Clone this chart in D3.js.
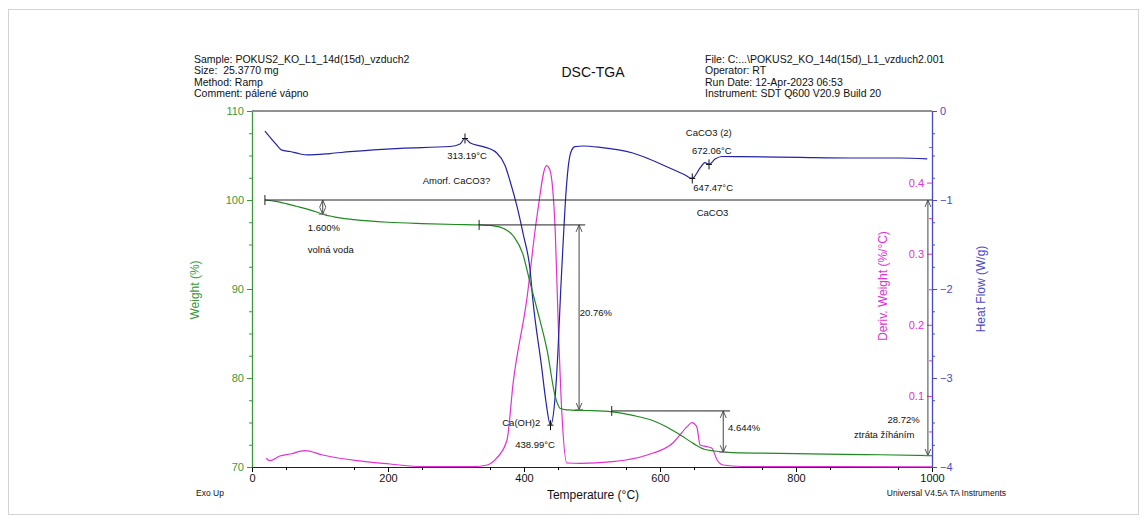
<!DOCTYPE html>
<html lang="en">
<head>
<meta charset="UTF-8">
<title>DSC-TGA</title>
<script src="https://d3js.org/d3.v7.min.js"></script>
<style>
    body { margin: 0; background: #fff; font-family: "Liberation Sans", Arial, sans-serif; }
    svg text { font-family: "Liberation Sans", Arial, sans-serif; white-space: pre; }
</style>
</head>
<body>
<div id="chart"></div>
<script>
// ---- data ----
// weight (%) vs temperature (°C)
var weightT = [19, 35, 50, 65, 80, 95, 104, 125, 150, 200, 250, 300, 334, 355, 370, 385, 398, 409, 420, 434, 446, 453, 460, 470, 490, 530, 560, 590, 610, 630, 650, 665, 680, 700, 750, 800, 900, 1000];
var weightVals = [100, 99.85, 99.6, 99.3, 99.0, 98.65, 98.4, 98.05, 97.8, 97.5, 97.35, 97.25, 97.2, 97.1, 96.8, 95.9, 94.0, 90.7, 87.5, 83.1, 77.9, 76.6, 76.45, 76.4, 76.35, 76.2, 75.8, 75.2, 74.5, 73.6, 72.6, 72.0, 71.8, 71.65, 71.55, 71.5, 71.4, 71.28];

// heat flow (W/g)
var heatT = [19, 34, 44, 56, 71, 81, 115, 144, 218, 291, 306, 313, 321, 340, 360, 372, 379, 390, 399, 409, 413, 426, 432, 439, 446, 450, 454, 457, 462, 465, 469, 475, 487, 512, 560, 610, 637, 647, 659, 666, 672, 681, 691, 718, 806, 879, 953, 993];
var heatVals = [-0.225, -0.36, -0.44, -0.455, -0.483, -0.494, -0.478, -0.457, -0.419, -0.399, -0.37, -0.309, -0.36, -0.40, -0.472, -0.61, -0.775, -1.08, -1.39, -1.79, -2.12, -2.88, -3.25, -3.53, -3.19, -2.69, -2.01, -1.56, -0.89, -0.63, -0.46, -0.40, -0.393, -0.408, -0.472, -0.626, -0.72, -0.758, -0.64, -0.579, -0.60, -0.54, -0.511, -0.513, -0.522, -0.528, -0.528, -0.539];

// derivative weight (%/°C)
var derivT = [21, 26, 41, 56, 78, 104, 154, 203, 251, 325, 346, 360, 375, 384, 404, 419, 433, 438, 446, 450, 456, 463, 483, 530, 581, 619, 640, 647, 654, 659, 669, 676, 684, 693, 720, 850, 1000];
var derivVals = [0.0123, 0.0089, 0.0155, 0.0183, 0.023, 0.0169, 0.0089, 0.0042, 0.0004, 0.0004, 0.0028, 0.0127, 0.038, 0.118, 0.235, 0.352, 0.424, 0.418, 0.33, 0.211, 0.07, 0.0056, 0.0052, 0.0075, 0.0169, 0.0338, 0.0568, 0.0624, 0.0568, 0.031, 0.0286, 0.0268, 0.0099, 0.0028, 0.0007, 0.0004, 0.0003];

// axis ticks
var tempTicks = [0, 200, 400, 600, 800, 1000];
var weightTicks = [70, 80, 90, 100, 110];
var heatTicks = [-4, -3, -2, -1, 0];
var derivTicks = [0.1, 0.2, 0.3, 0.4];

// step baselines (temperature range, weight level)
var stepLines = [
    {t0: 19, t1: 1000, w: 100},
    {t0: 334, t1: 490, w: 97.2},
    {t0: 529, t1: 703, w: 76.3}
];
// weight loss arrows
var stepArrows = [
    {t: 104, w0: 100, w1: 98.4},
    {t: 481, w0: 97.2, w1: 76.44},
    {t: 693, w0: 76.3, w1: 71.66},
    {t: 994, w0: 100, w1: 71.28}
];
// heat flow event markers
var peakT = [313.19, 438.99, 647.47, 672.06];
var peakHF = [-0.309, -3.53, -0.758, -0.60];

// annotation texts [text, temperature, weight, anchor]
var notes = [
    ['1.600%', 82, 96.5, 'start'],
    ['volná voda', 82, 94.05, 'start'],
    ['Amorf. CaCO3?', 251, 101.8, 'start'],
    ['313.19°C', 287, 104.6, 'start'],
    ['CaCO3', 654, 98.2, 'start'],
    ['CaCO3 (2)', 638, 107.2, 'start'],
    ['672.06°C', 647, 105.2, 'start'],
    ['647.47°C', 649, 101.0, 'start'],
    ['20.76%', 482, 86.97, 'start'],
    ['Ca(OH)2', 368, 74.6, 'start'],
    ['438.99°C', 387, 72.13, 'start'],
    ['4.644%', 700, 74.04, 'start'],
    ['28.72%', 982, 74.9, 'end'],
    ['ztráta žíháním', 974, 73.26, 'end']
];

var headerLeft = ['Sample: POKUS2_KO_L1_14d(15d)_vzduch2', 'Size:  25.3770 mg', 'Method: Ramp', 'Comment: pálené vápno'];
var headerRight = ['File: C:...\\POKUS2_KO_14d(15d)_L1_vzduch2.001', 'Operator: RT', 'Run Date: 12-Apr-2023 06:53', 'Instrument: SDT Q600 V20.9 Build 20'];

// ---- drawing ----
var W = 1147, H = 522;
var m = {left: 252, right: 932, top: 111, bottom: 467};

var green = '#1f8a1f', greenAxis = '#3a9a3a', blue = '#2323a8', blueAxis = '#4a4ac8', magenta = '#e030d8';

var svg = d3.select('#chart').append('svg').attr('width', W).attr('height', H);

svg.append('rect').attr('x', 8.5).attr('y', 9.5).attr('width', 1130).attr('height', 505)
    .attr('fill', 'none').attr('stroke', '#d4d4d4');

var x = d3.scaleLinear().domain([0, 1000]).range([m.left, m.right]);
var yW = d3.scaleLinear().domain([70, 110]).range([m.bottom, m.top]);
var yHF = d3.scaleLinear().domain([-4, 0]).range([m.bottom, m.top]);
var yD = d3.scaleLinear().domain([0, 0.5]).range([m.bottom, m.top + 0.5]);

// header
var hl = svg.append('g').attr('font-size', '10.5px').attr('fill', '#111');
headerLeft.forEach(function(s, i){
    hl.append('text').attr('x', 194).attr('y', 63 + i * 11.3).text(s);
});
headerRight.forEach(function(s, i){
    hl.append('text').attr('x', 705).attr('y', 63 + i * 11.3).text(s);
});
svg.append('text').attr('x', 593).attr('y', 77).attr('text-anchor', 'middle')
    .attr('font-size', '14px').attr('fill', '#111').text('DSC-TGA');

// top border
svg.append('line').attr('x1', m.left).attr('x2', m.right).attr('y1', m.top).attr('y2', m.top)
    .attr('stroke', '#222').attr('stroke-width', 1);

// bottom axis
var xAxis = svg.append('g').attr('transform', 'translate(0,' + m.bottom + ')')
    .call(d3.axisBottom(x).tickValues(tempTicks).tickSize(5).tickSizeOuter(0).tickPadding(2).tickFormat(d3.format('d')));
xAxis.select('.domain').attr('stroke', '#222');
xAxis.selectAll('text').attr('font-size', '11px').attr('fill', '#111');
svg.append('g').attr('transform', 'translate(0,' + m.bottom + ')')
    .call(d3.axisBottom(x).tickValues(d3.range(50, 1000, 100)).tickSize(3).tickFormat(''))
    .call(function(g){ g.select('.domain').remove(); });

// left weight axis
var yAxis = svg.append('g').attr('transform', 'translate(' + m.left + ',0)')
    .call(d3.axisLeft(yW).tickValues(weightTicks).tickSize(5).tickSizeOuter(0).tickPadding(3));
yAxis.select('.domain').attr('stroke', greenAxis).attr('stroke-width', 1.3);
yAxis.selectAll('line').attr('stroke', greenAxis);
yAxis.selectAll('text').attr('font-size', '11px').attr('fill', greenAxis);
svg.append('g').attr('transform', 'translate(' + m.left + ',0)')
    .call(d3.axisLeft(yW).tickValues(d3.range(72.5, 110, 2.5).filter(function(v){ return v % 10 !== 0; })).tickSize(3).tickFormat(''))
    .call(function(g){ g.select('.domain').remove(); g.selectAll('line').attr('stroke', greenAxis); });

// right heat flow axis
var hAxis = svg.append('g').attr('transform', 'translate(' + m.right + ',0)')
    .call(d3.axisRight(yHF).tickValues(heatTicks).tickSize(5).tickSizeOuter(0).tickPadding(3).tickFormat(d3.format('d')));
hAxis.select('.domain').attr('stroke', blueAxis).attr('stroke-width', 1.3);
hAxis.selectAll('line').attr('stroke', blueAxis);
hAxis.selectAll('text').attr('font-size', '11px').attr('fill', blueAxis);
svg.append('g').attr('transform', 'translate(' + m.right + ',0)')
    .call(d3.axisRight(yHF).tickValues(d3.range(-3.75, 0, 0.25).filter(function(v){ return v % 1 !== 0; })).tickSize(3).tickFormat(''))
    .call(function(g){ g.select('.domain').remove(); g.selectAll('line').attr('stroke', blueAxis); });

// deriv axis (same line, left side)
var dAxis = svg.append('g').attr('transform', 'translate(' + m.right + ',0)')
    .call(d3.axisLeft(yD).tickValues(derivTicks).tickSize(5).tickPadding(3).tickFormat(d3.format('.1f')));
dAxis.select('.domain').remove();
dAxis.selectAll('line').attr('stroke', magenta);
dAxis.selectAll('text').attr('font-size', '11px').attr('fill', magenta);
svg.append('g').attr('transform', 'translate(' + m.right + ',0)')
    .call(d3.axisLeft(yD).tickValues([0.05, 0.15, 0.25, 0.35, 0.45]).tickSize(3).tickFormat(''))
    .call(function(g){ g.select('.domain').remove(); g.selectAll('line').attr('stroke', magenta); });

// axis titles
svg.append('text').attr('transform', 'translate(199,290) rotate(-90)').attr('text-anchor', 'middle')
    .attr('font-size', '12px').attr('fill', greenAxis).text('Weight (%)');
svg.append('text').attr('transform', 'translate(887,286) rotate(-90)').attr('text-anchor', 'middle')
    .attr('font-size', '12px').attr('fill', magenta).text('Deriv. Weight (%/°C)');
svg.append('text').attr('transform', 'translate(985,289) rotate(-90)').attr('text-anchor', 'middle')
    .attr('font-size', '12px').attr('fill', blueAxis).text('Heat Flow (W/g)');
svg.append('text').attr('x', 593).attr('y', 499).attr('text-anchor', 'middle')
    .attr('font-size', '12px').attr('fill', '#111').text('Temperature (°C)');
svg.append('text').attr('x', 196).attr('y', 496).attr('font-size', '8.5px').attr('fill', '#111').text('Exo Up');
svg.append('text').attr('x', 1006).attr('y', 496).attr('text-anchor', 'end')
    .attr('font-size', '8.5px').attr('fill', '#111').text('Universal V4.5A TA Instruments');

// curves
function series(ts, vs){ return ts.map(function(t, i){ return [t, vs[i]]; }); }
var curve = d3.curveMonotoneX;

svg.append('path').datum(series(derivT, derivVals))
    .attr('d', d3.line().x(function(d){ return x(d[0]); }).y(function(d){ return yD(d[1]); }).curve(curve))
    .attr('fill', 'none').attr('stroke', magenta).attr('stroke-width', 1.2);

svg.append('path').datum(series(heatT, heatVals))
    .attr('d', d3.line().x(function(d){ return x(d[0]); }).y(function(d){ return yHF(d[1]); }).curve(curve))
    .attr('fill', 'none').attr('stroke', blue).attr('stroke-width', 1.2);

svg.append('path').datum(series(weightT, weightVals))
    .attr('d', d3.line().x(function(d){ return x(d[0]); }).y(function(d){ return yW(d[1]); }).curve(curve))
    .attr('fill', 'none').attr('stroke', green).attr('stroke-width', 1.2);

// arrow marker
var defs = svg.append('defs');
defs.append('marker').attr('id', 'arr').attr('viewBox', '-7 -4 8 8').attr('refX', 0).attr('refY', 0)
    .attr('markerWidth', 8).attr('markerHeight', 8).attr('markerUnits', 'userSpaceOnUse')
    .attr('orient', 'auto-start-reverse')
    .append('path').attr('d', 'M-7,-3 L0,0 L-7,3').attr('fill', 'none').attr('stroke', '#444').attr('stroke-width', 0.9);

// step lines
var ann = svg.append('g');
stepLines.forEach(function(s){
    ann.append('line').attr('x1', x(s.t0)).attr('x2', x(s.t1)).attr('y1', yW(s.w)).attr('y2', yW(s.w))
        .attr('stroke', '#222').attr('stroke-width', 1);
    ann.append('line').attr('x1', x(s.t0)).attr('x2', x(s.t0)).attr('y1', yW(s.w) - 5).attr('y2', yW(s.w) + 5)
        .attr('stroke', '#222').attr('stroke-width', 1);
});
stepArrows.forEach(function(a){
    ann.append('line').attr('x1', x(a.t)).attr('x2', x(a.t)).attr('y1', yW(a.w0)).attr('y2', yW(a.w1))
        .attr('stroke', '#444').attr('stroke-width', 1)
        .attr('marker-start', 'url(#arr)').attr('marker-end', 'url(#arr)');
    ann.append('line').attr('x1', x(a.t) - 4).attr('x2', x(a.t) + 4).attr('y1', yW(a.w1)).attr('y2', yW(a.w1))
        .attr('stroke', '#777').attr('stroke-width', 1);
});

// peak markers on heat flow
peakT.forEach(function(t, i){
    var px = x(t), py = yHF(peakHF[i]);
    ann.append('line').attr('x1', px).attr('x2', px).attr('y1', py - 5).attr('y2', py + 5).attr('stroke', '#111');
    ann.append('line').attr('x1', px - 3).attr('x2', px + 3).attr('y1', py).attr('y2', py).attr('stroke', '#111');
});

// annotation texts
notes.forEach(function(n){
    ann.append('text').attr('x', x(n[1])).attr('y', yW(n[2])).attr('text-anchor', n[3])
        .attr('font-size', '9.5px').attr('fill', '#111').text(n[0]);
});
</script>
</body>
</html>
